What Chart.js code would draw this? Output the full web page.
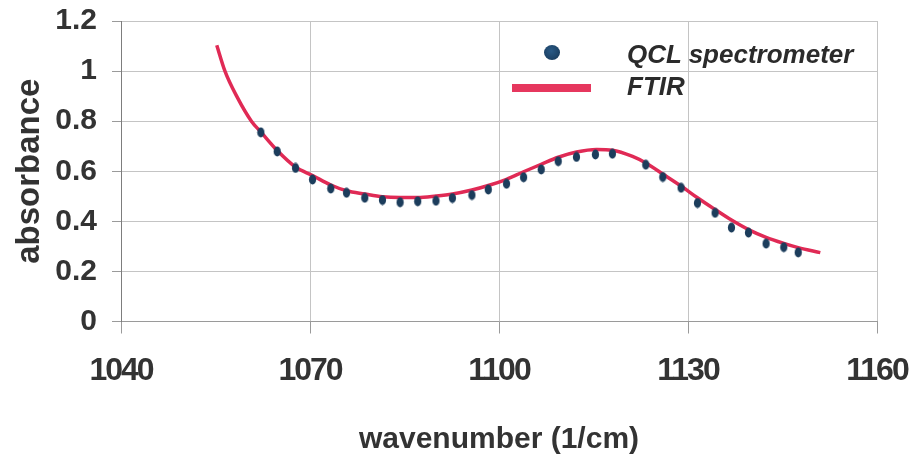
<!DOCTYPE html>
<html>
<head>
<meta charset="utf-8">
<script src="https://cdn.jsdelivr.net/npm/chart.js@4/dist/chart.umd.min.js"></script>
<style>
  html, body { margin: 0; padding: 0; background: #ffffff; }
  #wrap { position: relative; width: 909px; height: 459px; }
  #chart { position: absolute; left: 0; top: 0; }
  .legend-text {
    position: absolute;
    font-family: "Liberation Sans", Arial, sans-serif;
    font-weight: bold;
    font-style: italic;
    font-size: 26px;
    line-height: 26px;
    color: #2b2b2b;
    white-space: nowrap;
  }
  #leg-dot {
    position: absolute;
    left: 544px; top: 45px;
    width: 16px; height: 15px;
    border-radius: 50%;
    background: radial-gradient(circle at 45% 40%, #2a5a86 0%, #1e4468 60%, #16324d 100%);
  }
  #leg-line {
    position: absolute;
    left: 512px; top: 84px;
    width: 79px; height: 8px;
    background: #e6375e;
  }
</style>
</head>
<body>
<div id="wrap">
  <canvas id="chart" width="909" height="459"></canvas>
  <div id="leg-dot"></div>
  <div class="legend-text" style="left:627px; top:41px;">QCL spectrometer</div>
  <div id="leg-line"></div>
  <div class="legend-text" style="left:627px; top:73px;">FTIR</div>
</div>
<script>
// QCL spectrometer measurements
const qclWavenumber = [
  1062.2, 1064.8, 1067.7, 1070.4, 1073.3, 1075.8, 1078.7, 1081.5, 1084.3, 1087.1,
  1090.0, 1092.6, 1095.7, 1098.3, 1101.2, 1103.9, 1106.7, 1109.4, 1112.3, 1115.3,
  1118.0, 1123.3, 1126.0, 1128.9, 1131.5, 1134.3, 1136.9, 1139.6, 1142.4, 1145.2,
  1147.5
];
const qclAbsorbance = [
  0.755, 0.679, 0.613, 0.567, 0.531, 0.514, 0.494, 0.485, 0.476, 0.480,
  0.482, 0.493, 0.505, 0.527, 0.550, 0.576, 0.607, 0.640, 0.657, 0.667,
  0.670, 0.626, 0.577, 0.534, 0.473, 0.434, 0.375, 0.355, 0.311, 0.297,
  0.276
];

// FTIR reference spectrum
const ftirWavenumber = [
  1055.2, 1056.5, 1058.4, 1060.7, 1062.2, 1064.8, 1067.7, 1070.4, 1073.3, 1075.8,
  1078.7, 1081.5, 1084.3, 1087.1, 1090.0, 1092.6, 1095.7, 1098.3, 1101.2, 1103.9,
  1106.7, 1109.4, 1112.3, 1115.5, 1118.0, 1121.2, 1123.3, 1126.0, 1128.9, 1131.5,
  1134.3, 1136.9, 1139.6, 1142.4, 1145.2, 1147.5, 1151.0
];
const ftirAbsorbance = [
  1.103, 1.000, 0.898, 0.800, 0.757, 0.683, 0.617, 0.583, 0.545, 0.522,
  0.509, 0.498, 0.495, 0.495, 0.501, 0.509, 0.525, 0.543, 0.568, 0.598,
  0.628, 0.656, 0.677, 0.687, 0.684, 0.659, 0.633, 0.589, 0.541, 0.494,
  0.447, 0.405, 0.367, 0.336, 0.312, 0.295, 0.275
];

// Axis ticks
const xTickValues = [1040, 1070, 1100, 1130, 1160];
const xTickLabels = ['1040', '1070', '1100', '1130', '1160'];
const yTickValues = [0, 0.2, 0.4, 0.6, 0.8, 1.0, 1.2];
const yTickLabels = ['0', '0.2', '0.4', '0.6', '0.8', '1', '1.2'];

// Small vertical oval used as the marker for the QCL points
function makeMarker() {
  const c = document.createElement('canvas');
  c.width = 9; c.height = 11;
  const g = c.getContext('2d');
  g.fillStyle = '#1c3d5c';
  g.beginPath();
  g.ellipse(4.5, 5.5, 3.6, 4.9, 0, 0, Math.PI * 2);
  g.fill();
  return c;
}

const qclPoints = qclWavenumber.map((x, i) => ({ x: x, y: qclAbsorbance[i] }));
const ftirPoints = ftirWavenumber.map((x, i) => ({ x: x, y: ftirAbsorbance[i] }));

function labelFor(values, labels, v) {
  for (let i = 0; i < values.length; i++) {
    if (Math.abs(values[i] - v) < 1e-6) return labels[i];
  }
  return '';
}

// Tighter spacing for the bottom axis numbers, which are drawn in their own layer after the data
const tightTickText = {
  id: 'tightTickText',
  afterDatasetsDraw(chart) { chart.ctx.letterSpacing = '-2px'; },
  afterDraw(chart) { chart.ctx.letterSpacing = '0px'; }
};

const gridColor = '#c4c4c4';

new Chart(document.getElementById('chart'), {
  type: 'scatter',
  data: {
    datasets: [
      {
        label: 'QCL spectrometer',
        data: qclPoints,
        showLine: false,
        pointStyle: makeMarker(),
        pointRadius: 5,
        pointHoverRadius: 5
      },
      {
        label: 'FTIR',
        data: ftirPoints,
        showLine: true,
        borderColor: '#e02a55',
        borderWidth: 3.5,
        pointRadius: 0,
        pointHoverRadius: 0,
        cubicInterpolationMode: 'monotone',
        fill: false
      }
    ]
  },
  plugins: [tightTickText],
  options: {
    responsive: false,
    animation: false,
    devicePixelRatio: 1,
    layout: { padding: { top: 21, right: 32, left: 0, bottom: 0 } },
    plugins: {
      legend: { display: false },
      tooltip: { enabled: false }
    },
    scales: {
      x: {
        type: 'linear',
        min: 1040,
        max: 1160,
        afterBuildTicks: (scale) => { scale.ticks = xTickValues.map(v => ({ value: v })); },
        afterFit: (scale) => {
          scale.height = 137.5;
          scale.paddingLeft = 0;
          scale.paddingRight = 0;
        },
        ticks: {
          callback: (v) => labelFor(xTickValues, xTickLabels, v),
          color: '#333333',
          padding: 18,
          maxRotation: 0,
          z: 1,
          font: { family: '"Liberation Sans", Arial, sans-serif', weight: 'bold', size: 32 }
        },
        grid: { color: gridColor, lineWidth: 1, tickLength: 12, tickColor: '#9a9a9a' },
        border: { color: '#9a9a9a', width: 1 },
        title: {
          display: true,
          text: 'wavenumber (1/cm)',
          color: '#333333',
          padding: { top: 0, bottom: 1 },
          font: { family: '"Liberation Sans", Arial, sans-serif', weight: 'bold', size: 30 }
        }
      },
      y: {
        type: 'linear',
        min: 0,
        max: 1.2,
        afterBuildTicks: (scale) => { scale.ticks = yTickValues.map(v => ({ value: v })); },
        afterFit: (scale) => {
          scale.width = 121;
          scale.paddingTop = 0;
          scale.paddingBottom = 0;
        },
        ticks: {
          callback: (v) => labelFor(yTickValues, yTickLabels, v),
          color: '#333333',
          padding: 15,
          font: { family: '"Liberation Sans", Arial, sans-serif', weight: 'bold', size: 30 }
        },
        grid: { color: gridColor, lineWidth: 1, tickLength: 9, tickColor: '#9a9a9a' },
        border: { color: '#7d7d7d', width: 1 },
        title: {
          display: true,
          text: 'absorbance',
          color: '#333333',
          padding: { top: 10, bottom: 0 },
          font: { family: '"Liberation Sans", Arial, sans-serif', weight: 'bold', size: 33 }
        }
      }
    }
  }
});
</script>
</body>
</html>
